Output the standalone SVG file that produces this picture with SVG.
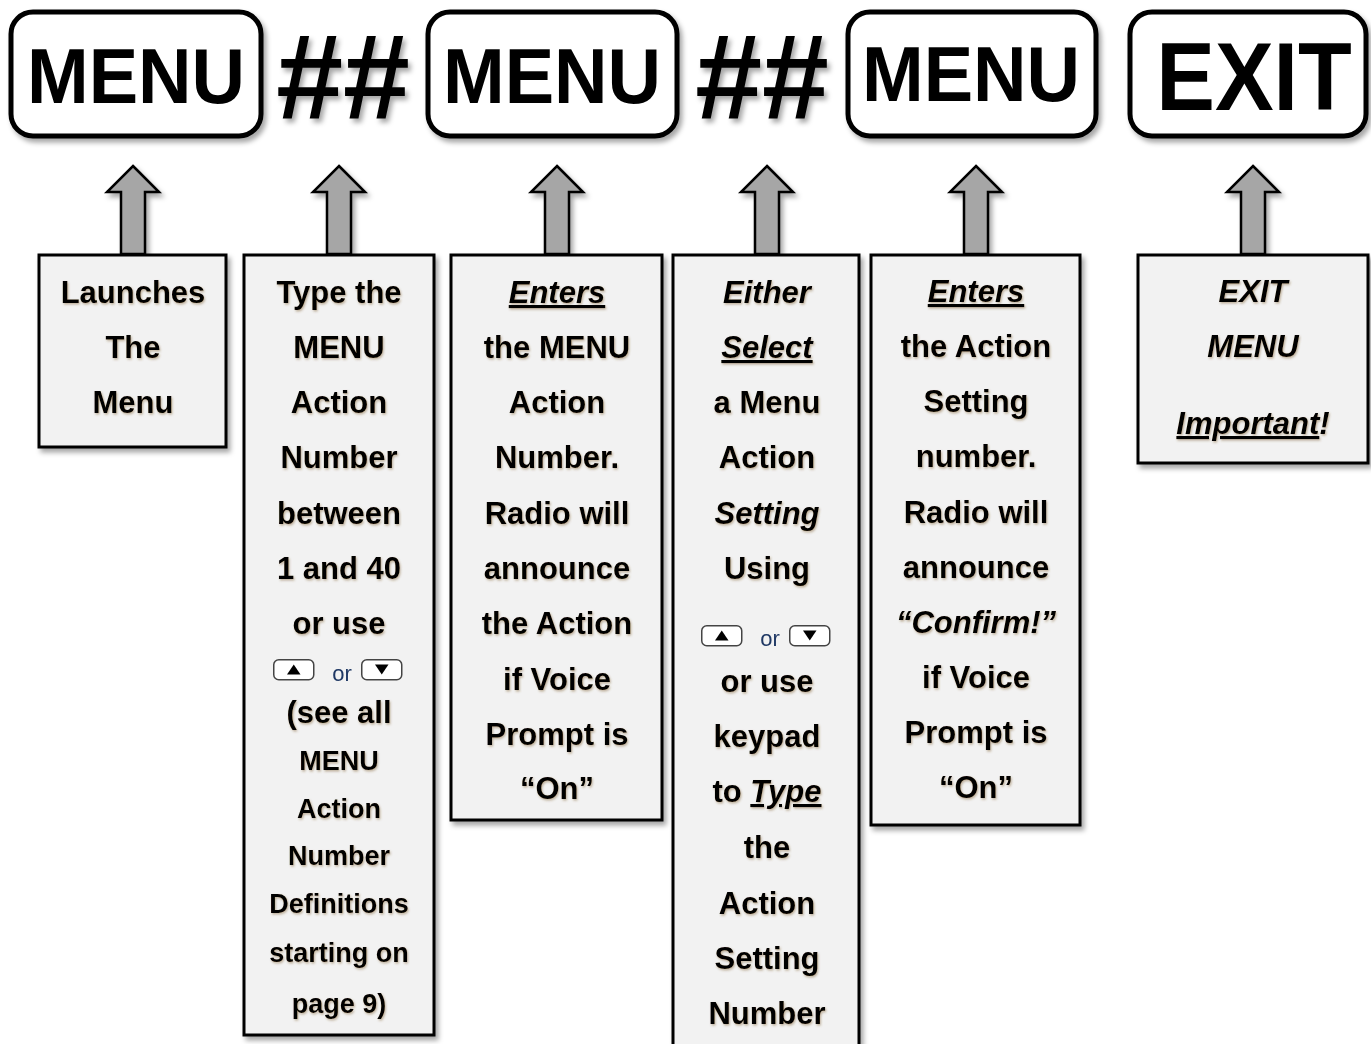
<svg xmlns="http://www.w3.org/2000/svg" xmlns:xlink="http://www.w3.org/1999/xlink" width="1371" height="1044" viewBox="0 0 1371 1044">
<style>
.key{fill:#fff;stroke:#000;stroke-width:5}
.keytxt{font-family:"Liberation Sans",Arial,sans-serif;font-weight:bold;fill:#000;text-anchor:middle}
.box{fill:#f2f2f2;stroke:#000;stroke-width:3}
.t{font-family:"Liberation Sans",Arial,sans-serif;font-weight:bold;font-size:31px;fill:#000;text-anchor:middle}
.s{font-size:27px}
.i{font-style:italic}
.u{text-decoration:underline}
.or{font-family:"Liberation Sans",Arial,sans-serif;font-size:22px;fill:#1f3864;text-anchor:middle}
.arrow{fill:#a6a6a6;stroke:#000;stroke-width:2.5;stroke-linejoin:miter}
</style>
<defs>
<filter id="sh" x="-10%" y="-10%" width="130%" height="130%">
<feDropShadow dx="3" dy="4" stdDeviation="2.5" flood-color="#000" flood-opacity="0.35"/>
</filter>
<filter id="tsh" x="-5%" y="-5%" width="115%" height="120%">
<feDropShadow dx="1" dy="1.5" stdDeviation="1" flood-color="#7a5a2a" flood-opacity="0.45"/>
</filter>
<path id="arr" class="arrow" d="M0,0 L26,26 L12,26 L12,88 L-12,88 L-12,26 L-26,26 Z"/>
<g id="btnUp">
<rect x="0.75" y="0.75" width="40" height="20" rx="5" fill="#fff" stroke="#444" stroke-width="1.5"/>
<polygon points="20.75,5.5 27.5,15.5 14,15.5" fill="#000"/>
</g>
<g id="btnDown">
<rect x="0.75" y="0.75" width="40" height="20" rx="5" fill="#fff" stroke="#444" stroke-width="1.5"/>
<polygon points="14,5.5 27.5,5.5 20.75,15.5" fill="#000"/>
</g>
</defs>
<rect width="1371" height="1044" fill="#fff"/>

<g id="key-menu1" filter="url(#sh)">
<rect class="key" x="11" y="12" width="250" height="124" rx="22"/>
<text class="keytxt" x="136" y="103" font-size="77" textLength="218" lengthAdjust="spacingAndGlyphs">MENU</text>
</g>
<g id="hash1" filter="url(#sh)">
<text class="keytxt" x="343" y="118" font-size="120">##</text>
</g>
<g id="key-menu2" filter="url(#sh)">
<rect class="key" x="428" y="12" width="249" height="124" rx="22"/>
<text class="keytxt" x="552" y="103" font-size="77" textLength="218" lengthAdjust="spacingAndGlyphs">MENU</text>
</g>
<g id="hash2" filter="url(#sh)">
<text class="keytxt" x="762" y="118" font-size="120">##</text>
</g>
<g id="key-menu3" filter="url(#sh)">
<rect class="key" x="848" y="12" width="248" height="124" rx="22"/>
<text class="keytxt" x="971" y="101" font-size="77" textLength="218" lengthAdjust="spacingAndGlyphs">MENU</text>
</g>
<g id="key-exit" filter="url(#sh)">
<rect class="key" x="1130" y="12" width="236" height="124" rx="22"/>
<text class="keytxt" x="0" y="0" font-size="88" transform="translate(1254,110) scale(1,1.1)">EXIT</text>
</g>

<g id="connectors" filter="url(#sh)">
<use xlink:href="#arr" x="133" y="166"/>
<use xlink:href="#arr" x="339" y="166"/>
<use xlink:href="#arr" x="557" y="166"/>
<use xlink:href="#arr" x="767" y="166"/>
<use xlink:href="#arr" x="976" y="166"/>
<use xlink:href="#arr" x="1253" y="166"/>
</g>

<g id="box1">
<rect class="box" x="39" y="255" width="187" height="192" filter="url(#sh)"/>
<g filter="url(#tsh)">
<text class="t" x="133" y="303">Launches</text>
<text class="t" x="133" y="358">The</text>
<text class="t" x="133" y="413">Menu</text>
</g>
</g>

<g id="box2">
<rect class="box" x="244" y="255" width="190" height="780" filter="url(#sh)"/>
<g filter="url(#tsh)">
<text class="t" x="339" y="303">Type the</text>
<text class="t" x="339" y="358">MENU</text>
<text class="t" x="339" y="413">Action</text>
<text class="t" x="339" y="468">Number</text>
<text class="t" x="339" y="524">between</text>
<text class="t" x="339" y="579">1 and 40</text>
<text class="t" x="339" y="634">or use</text>
<text class="t" x="339" y="723" font-size="28">(see all</text>
<text class="t s" x="339" y="770">MENU</text>
<text class="t s" x="339" y="818">Action</text>
<text class="t s" x="339" y="865">Number</text>
<text class="t s" x="339" y="913">Definitions</text>
<text class="t s" x="339" y="962">starting on</text>
<text class="t s" x="339" y="1013">page 9)</text>
</g>
<use xlink:href="#btnUp" x="273" y="659"/>
<text class="or" x="342" y="681">or</text>
<use xlink:href="#btnDown" x="361" y="659"/>
</g>

<g id="box3">
<rect class="box" x="451" y="255" width="211" height="565" filter="url(#sh)"/>
<g filter="url(#tsh)">
<text class="t i u" x="557" y="303">Enters</text>
<text class="t" x="557" y="358">the MENU</text>
<text class="t" x="557" y="413">Action</text>
<text class="t" x="557" y="468">Number.</text>
<text class="t" x="557" y="524">Radio will</text>
<text class="t" x="557" y="579">announce</text>
<text class="t" x="557" y="634">the Action</text>
<text class="t" x="557" y="690">if Voice</text>
<text class="t" x="557" y="745">Prompt is</text>
<text class="t" x="557" y="799">“On”</text>
</g>
</g>

<g id="box4">
<rect class="box" x="673" y="255" width="186" height="800" filter="url(#sh)"/>
<g filter="url(#tsh)">
<text class="t i" x="767" y="303">Either</text>
<text class="t i u" x="767" y="358">Select</text>
<text class="t" x="767" y="413">a Menu</text>
<text class="t" x="767" y="468">Action</text>
<text class="t i" x="767" y="524">Setting</text>
<text class="t" x="767" y="579">Using</text>
<text class="t" x="767" y="692">or use</text>
<text class="t" x="767" y="747">keypad</text>
<text class="t" x="767" y="802">to <tspan class="i u">Type</tspan></text>
<text class="t" x="767" y="858">the</text>
<text class="t" x="767" y="914">Action</text>
<text class="t" x="767" y="969">Setting</text>
<text class="t" x="767" y="1024">Number</text>
</g>
<use xlink:href="#btnUp" x="701" y="625"/>
<text class="or" x="770" y="646">or</text>
<use xlink:href="#btnDown" x="789" y="625"/>
</g>

<g id="box5">
<rect class="box" x="871" y="255" width="209" height="570" filter="url(#sh)"/>
<g filter="url(#tsh)">
<text class="t i u" x="976" y="302">Enters</text>
<text class="t" x="976" y="357">the Action</text>
<text class="t" x="976" y="412">Setting</text>
<text class="t" x="976" y="467">number.</text>
<text class="t" x="976" y="523">Radio will</text>
<text class="t" x="976" y="578">announce</text>
<text class="t i" x="976" y="633">“Confirm!”</text>
<text class="t" x="976" y="688">if Voice</text>
<text class="t" x="976" y="743">Prompt is</text>
<text class="t" x="976" y="798">“On”</text>
</g>
</g>

<g id="box6">
<rect class="box" x="1138" y="255" width="230" height="208" filter="url(#sh)"/>
<g filter="url(#tsh)">
<text class="t i" x="1253" y="302">EXIT</text>
<text class="t i" x="1253" y="357">MENU</text>
<text class="t i" x="1253" y="434"><tspan class="u">Important</tspan>!</text>
</g>
</g>
</svg>
